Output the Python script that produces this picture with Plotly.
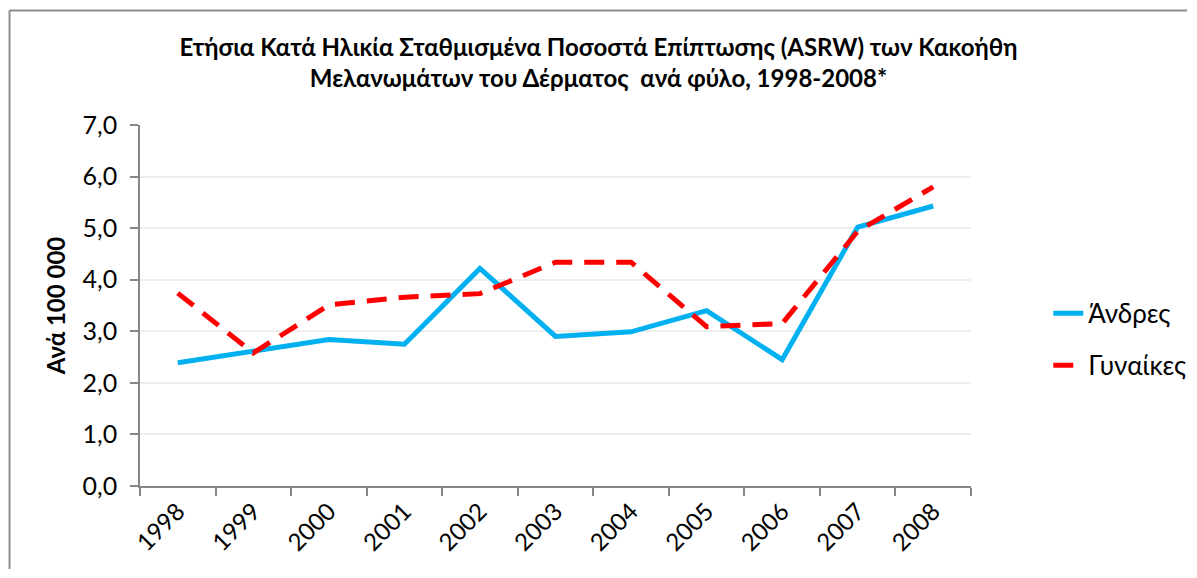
import plotly.graph_objects as go

years = ["1998", "1999", "2000", "2001", "2002", "2003", "2004", "2005", "2006", "2007", "2008"]
andres = [2.39, 2.61, 2.84, 2.75, 4.22, 2.90, 2.99, 3.40, 2.45, 5.02, 5.43]
gynaikes = [3.74, 2.58, 3.51, 3.66, 3.73, 4.34, 4.34, 3.09, 3.15, 4.94, 5.80]
series_names = ["Άνδρες", "Γυναίκες"]
y_ticks = [0, 1, 2, 3, 4, 5, 6, 7]

FONT = "Lato"

fig = go.Figure()
fig.add_trace(go.Scatter(
    x=years, y=andres, name=series_names[0], mode="lines",
    line=dict(color="#00B0F0", width=5), legendgroup="a"))
fig.add_trace(go.Scatter(
    x=years, y=gynaikes, name=series_names[1], mode="lines",
    line=dict(color="#FF0000", width=5, dash="20px,12px"), legendgroup="b"))

fig.update_layout(
    width=1181, height=562,
    paper_bgcolor="white", plot_bgcolor="white",
    margin=dict(l=132, r=218, t=117, b=84, autoexpand=False),
    separators=", ",
    font=dict(family=FONT, color="black"),
    title=dict(
        text="<b>Ετήσια Κατά Ηλικία Σταθμισμένα Ποσοστά Επίπτωσης (ASRW) των Κακοήθη<br>Μελανωμάτων του Δέρματος  ανά φύλο, 1998-2008*</b>",
        x=0.5, xanchor="center", y=0.9146, yanchor="top",
        font=dict(family=FONT, size=24, color="black")),
    legend=dict(
        x=1.093, xanchor="left", y=0.406, yanchor="middle",
        font=dict(family=FONT, size=26, color="black"),
        tracegroupgap=15, bgcolor="rgba(0,0,0,0)"),
)

fig.update_xaxes(
    type="category", range=[-0.5, 10.5],
    showline=True, linecolor="#868686", linewidth=1.5,
    ticks="outside", tickson="boundaries", ticklen=8, tickcolor="#868686", tickwidth=1.5,
    tickangle=-45, tickfont=dict(family=FONT, size=24, color="black"),
    showgrid=False, zeroline=False, automargin=False)

fig.update_yaxes(
    range=[0, 7], tickvals=y_ticks, tickformat=".1f",
    showline=True, linecolor="#868686", linewidth=1.5,
    ticks="outside", ticklen=8, tickcolor="#868686", tickwidth=1.5,
    ticklabelstandoff=8,
    tickfont=dict(family=FONT, size=25, color="black"),
    showgrid=True, gridcolor="#EDEDED", gridwidth=1.5, zeroline=False, automargin=False,
    title=dict(text="<b>Ανά 100 000</b>", font=dict(family=FONT, size=24, color="black"), standoff=10))

# chart frame (top and left edges), kept inside the figure
fig.add_shape(type="line", xref="paper", yref="paper", x0=-0.157, x1=1.26, y0=1.317, y1=1.317,
              line=dict(color="#8c8c8c", width=2))
fig.add_shape(type="line", xref="paper", yref="paper", x0=-0.157, x1=-0.157, y0=-0.23, y1=1.317,
              line=dict(color="#8c8c8c", width=2))

fig.write_html("out.html", config={"responsive": False})
